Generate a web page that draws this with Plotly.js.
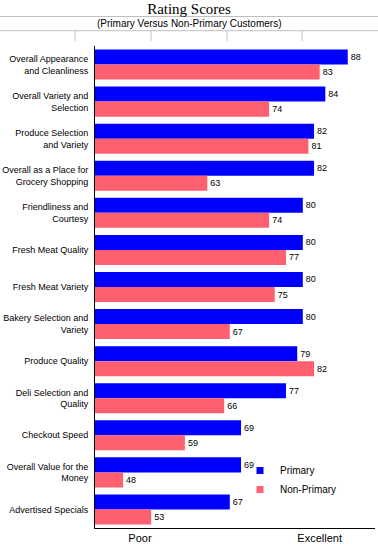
<!DOCTYPE html>
<html>
<head>
<meta charset="utf-8">
<script src="https://cdn.plot.ly/plotly-3.0.1.min.js"></script>
<style>html,body{margin:0;padding:0;background:#fff;}#chart{width:378px;height:544px;}</style>
</head>
<body>
<div id="chart"></div>
<script>
var categories = [
  "Overall Appearance<br>and Cleanliness",
  "Overall Variety and<br>Selection",
  "Produce Selection<br>and Variety",
  "Overall as a Place for<br>Grocery Shopping",
  "Friendliness and<br>Courtesy",
  "Fresh Meat Quality",
  "Fresh Meat Variety",
  "Bakery Selection and<br>Variety",
  "Produce Quality",
  "Deli Selection and<br>Quality",
  "Checkout Speed",
  "Overall Value for the<br>Money",
  "Advertised Specials"
];
var primary = [88, 84, 82, 82, 80, 80, 80, 80, 79, 77, 69, 69, 67];
var nonPrimary = [83, 74, 81, 63, 74, 77, 75, 67, 82, 66, 59, 48, 53];
var seriesNames = ["Primary", "Non-Primary"];
var seriesColors = ["#0000FF", "#FF6070"];
var xTickVals = [51, 83];
var xTickText = ["Poor", "Excellent"];

var font = "Liberation Sans, Arial, sans-serif";

var traces = [primary, nonPrimary].map(function (vals, i) {
  return {
    type: "bar", orientation: "h", name: seriesNames[i],
    y: categories, x: vals,
    marker: {color: seriesColors[i]},
    text: vals.map(String), textposition: "outside",
    textfont: {family: font, size: 9, color: "#000"},
    cliponaxis: false, hoverinfo: "none", showlegend: false
  };
});
// legend entries with small square swatches
seriesNames.forEach(function (n, i) {
  traces.push({
    type: "scatter", mode: "markers", name: n, x: [null], y: [null],
    marker: {symbol: "square", size: 7, color: seriesColors[i]},
    hoverinfo: "none", showlegend: true
  });
});

function px(x) { return (x - 95) / 280; }
function py(y) { return (528 - y) / 482; }

var shapes = [
  {type: "line", xref: "paper", yref: "paper", x0: px(0), x1: px(378), y0: py(16.5), y1: py(16.5), line: {color: "#C0C0C0", width: 1}},
  {type: "line", xref: "paper", yref: "paper", x0: px(0), x1: px(378), y0: py(30.7), y1: py(30.7), line: {color: "#C0C0C0", width: 1}}
];
[75, 151, 227, 302].forEach(function (x) {
  shapes.push({type: "line", xref: "paper", yref: "paper", x0: px(x), x1: px(x), y0: py(31), y1: py(41), line: {color: "#C0C0C0", width: 1}});
});

var layout = {
  width: 378, height: 544,
  margin: {l: 95, r: 3, t: 46, b: 16, pad: 0},
  paper_bgcolor: "#fff", plot_bgcolor: "#fff",
  title: {text: "Rating Scores", font: {family: "Liberation Serif, Times New Roman, serif", size: 15, color: "#000"},
          x: 0.5, xanchor: "center", y: 1 - 9 / 544, yanchor: "middle", yref: "container"},
  barmode: "group", bargap: 0.19, bargroupgap: 0,
  showlegend: true,
  legend: {x: px(240), y: py(456), xanchor: "left", yanchor: "top",
           font: {family: font, size: 10, color: "#000"}, bgcolor: "rgba(0,0,0,0)", tracegroupgap: 0},
  xaxis: {range: [43, 92.85], showgrid: false, zeroline: false, showline: true, linecolor: "#000", linewidth: 1,
          tickmode: "array", tickvals: xTickVals, ticktext: xTickText, ticks: "",
          tickfont: {family: font, size: 11, color: "#000"}, fixedrange: true},
  yaxis: {autorange: "reversed", type: "category", showgrid: false, zeroline: false, showline: true, linecolor: "#000", linewidth: 1,
          ticks: "", ticklabelstandoff: 4, tickfont: {family: font, size: 9, color: "#000"}, fixedrange: true},
  shapes: shapes,
  annotations: [
    {text: "(Primary Versus Non-Primary Customers)", xref: "paper", yref: "paper", x: px(189), y: py(24),
     xanchor: "center", yanchor: "middle", showarrow: false, font: {family: font, size: 10, color: "#000"}}
  ]
};

Plotly.newPlot("chart", traces, layout, {displayModeBar: false, staticPlot: true});
</script>
</body>
</html>
